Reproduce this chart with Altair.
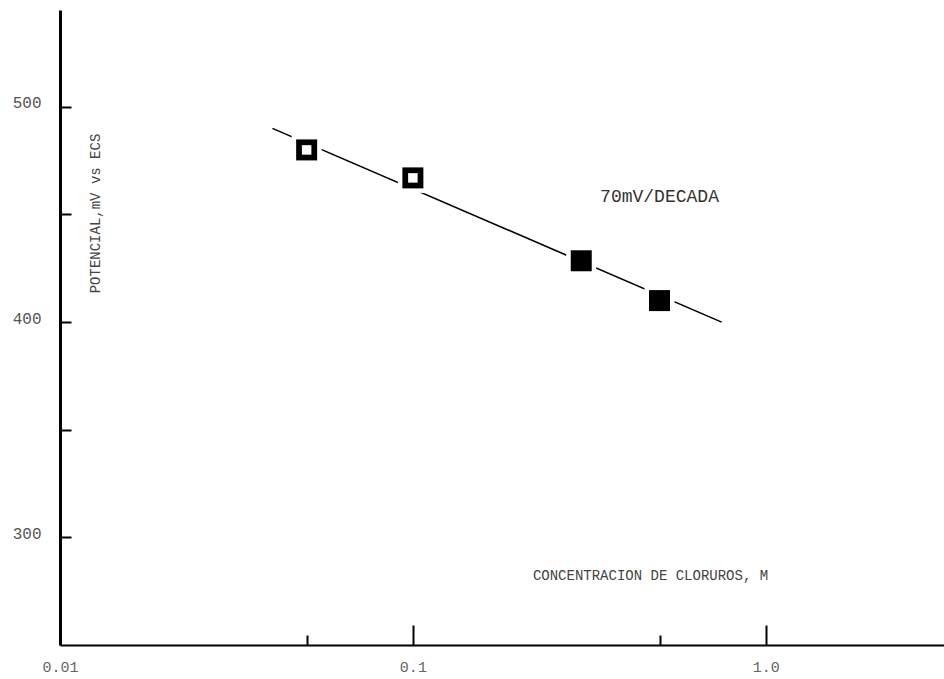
import altair as alt
import pandas as pd

# Measured electrode potential against chloride concentration
conc = [0.05, 0.1, 0.3, 0.5]
potential = [480, 467, 428.5, 410]
hollow = [True, True, False, False]

# Straight line of 70 mV per decade drawn through the points
fit_conc = [0.04, 0.75]
fit_potential = [490, 400]

# Axis ticks and the ones that carry a label
x_ticks = [0.01, 0.05, 0.1, 0.5, 1.0]
y_ticks = [300, 350, 400, 450, 500]

slope_note = ["70mV/DECADA"]
note_conc = [0.5]
note_potential = [458]

x_title = "CONCENTRACION DE CLORUROS, M"
y_title = "POTENCIAL,mV vs ECS"

FONT = "Liberation Mono"

points = pd.DataFrame({"conc": conc, "potential": potential, "hollow": hollow})
fit = pd.DataFrame({"conc": fit_conc, "potential": fit_potential})
note = pd.DataFrame({"conc": note_conc, "potential": note_potential, "text": slope_note})

x_axis = alt.Axis(
    values=x_ticks,
    labelExpr="datum.value == 0.01 ? '0.01' : datum.value == 0.1 ? '0.1' : datum.value == 1 ? '1.0' : ''",
    tickSize={"condition": {"test": "datum.value == 0.05 || datum.value == 0.5", "expr": "-10"}, "expr": "-20"},
    tickWidth=2,
    tickColor="black",
    domainColor="black",
    domainWidth=2,
    grid=False,
    labelPadding=34,
    labelFont=FONT,
    labelFontSize=15,
    labelColor="#666666",
    labelFlush=False,
    labelOverlap=False,
    title=x_title,
    titleX=590,
    titleY=-70,
    titleAlign="center",
    titleBaseline="middle",
    titleFont=FONT,
    titleFontSize=14,
    titleFontWeight="normal",
    titleColor="#444444",
)

y_axis = alt.Axis(
    values=y_ticks,
    labelExpr="datum.value % 100 == 0 ? datum.label : ''",
    tickSize={"expr": "-11"},
    tickWidth=2,
    tickColor="black",
    domainColor="black",
    domainWidth=3,
    grid=False,
    labelPadding=30,
    labelOffset=-4,
    labelFont=FONT,
    labelFontSize=16,
    labelColor="#555555",
    labelOverlap=False,
    title=y_title,
    titleAngle=270,
    titleX=35,
    titleY=203,
    titleAlign="center",
    titleBaseline="middle",
    titleFont=FONT,
    titleFontSize=14,
    titleFontWeight="normal",
    titleColor="#444444",
)

x_enc = alt.X("conc:Q", scale=alt.Scale(type="log", domain=[0.01, 3.2], nice=False), axis=x_axis)
y_enc = alt.Y("potential:Q", scale=alt.Scale(domain=[250, 545], nice=False, zero=False), axis=y_axis)

line = alt.Chart(fit).mark_line(color="black", strokeWidth=1.6).encode(x=x_enc, y=y_enc)

halo = alt.Chart(points).mark_square(color="white", opacity=1, size=900).encode(x=x_enc, y=y_enc)

squares = alt.Chart(points).mark_square(color="black", opacity=1, size=441).encode(x=x_enc, y=y_enc)

centres = (
    alt.Chart(points)
    .transform_filter("datum.hollow")
    .mark_square(color="white", opacity=1, size=90)
    .encode(x=x_enc, y=y_enc)
)

label = alt.Chart(note).mark_text(
    font=FONT, fontSize=18, color="#333333", align="center", baseline="middle"
).encode(x=x_enc, y=y_enc, text="text:N")

chart = (
    alt.layer(line, halo, squares, centres, label)
    .properties(
        width=884,
        height=635,
        autosize=alt.AutoSizeParams(type="none"),
        padding={"left": 60, "top": 10, "right": 0, "bottom": 34},
        background="white",
    )
    .configure_view(stroke=None)
)

chart.save("out.html", embed_options={"renderer": "svg", "actions": False})
